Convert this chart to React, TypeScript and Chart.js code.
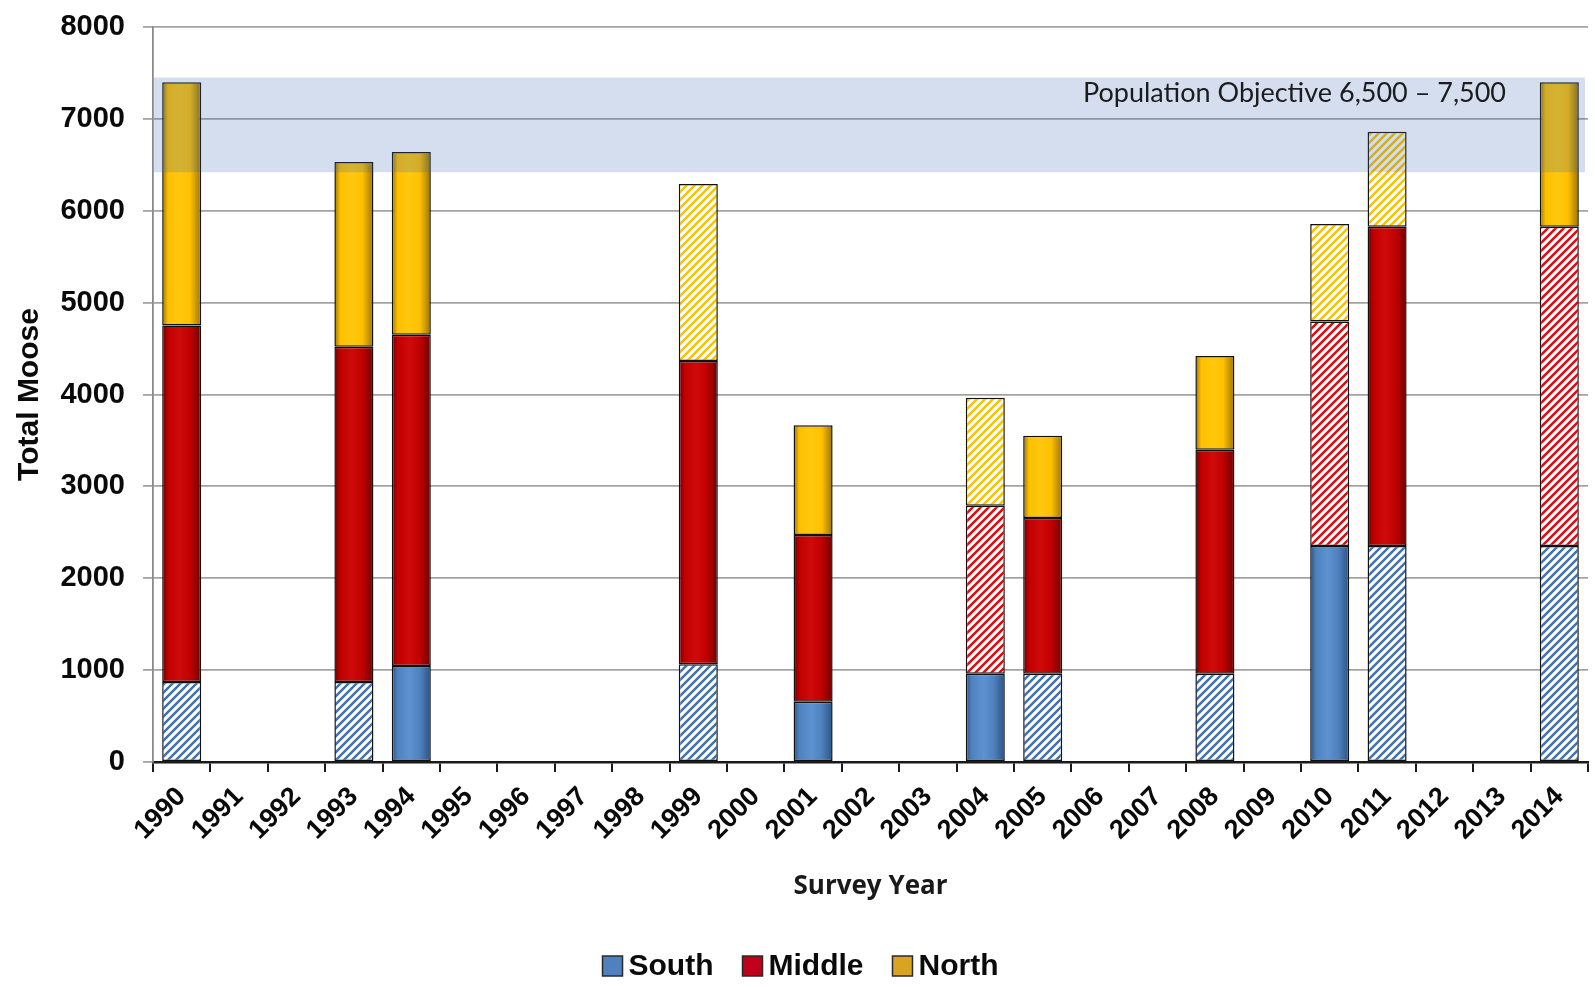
import React, { useEffect, useRef } from 'react';
import { Chart, registerables } from 'chart.js';

Chart.register(...registerables);

const YEARS = [
  '1990', '1991', '1992', '1993', '1994', '1995', '1996', '1997', '1998', '1999',
  '2000', '2001', '2002', '2003', '2004', '2005', '2006', '2007', '2008', '2009',
  '2010', '2011', '2012', '2013', '2014',
];

const SOUTH = [870, null, null, 870, 1045, null, null, null, null, 1065, null, 655, null, null, 960, 960, null, null, 960, null, 2350, 2350, null, null, 2350];
const MIDDLE = [3880, null, null, 3650, 3605, null, null, null, null, 3300, null, 1815, null, null, 1830, 1695, null, null, 2440, null, 2445, 3475, null, null, 3475];
const NORTH = [2650, null, null, 2010, 1990, null, null, null, null, 1925, null, 1195, null, null, 1175, 895, null, null, 1020, null, 1060, 1035, null, null, 1575];

// Years whose segment is drawn hatched (estimated) rather than solid
const SOUTH_HATCHED_YEARS = ['1990', '1993', '1999', '2005', '2008', '2011', '2014'];
const MIDDLE_HATCHED_YEARS = ['2004', '2010', '2014'];
const NORTH_HATCHED_YEARS = ['1999', '2004', '2010', '2011'];

const SERIES_NAMES = ['South', 'Middle', 'North'];
const Y_TICKS = [0, 1000, 2000, 3000, 4000, 5000, 6000, 7000, 8000];
const OBJECTIVE_LOW = 6420;
const OBJECTIVE_HIGH = 7450;
const OBJECTIVE_LABEL = 'Population Objective 6,500 \u2013 7,500';

const BAR_PCT = 0.68;
const FONT = "'Liberation Sans', Arial, Helvetica, sans-serif";

type Palette = { base: string; dark: string; light: string; stripe: string; legend: string };
const PALETTES: Palette[] = [
  { base: '#4f81bd', dark: '#2c5284', light: '#5d92d2', stripe: '#3f72b8', legend: '#4f81bd' },
  { base: '#c00000', dark: '#6e0000', light: '#cf0a0a', stripe: '#e00a0a', legend: '#c0001a' },
  { base: '#ffc000', dark: '#9a7400', light: '#ffc80d', stripe: '#ffc000', legend: '#d9a520' },
];

function makeHatch(ctx: CanvasRenderingContext2D, color: string): CanvasPattern | string {
  const s = 8;
  const c = document.createElement('canvas');
  c.width = s;
  c.height = s;
  const g = c.getContext('2d');
  if (!g) return color;
  g.fillStyle = '#ffffff';
  g.fillRect(0, 0, s, s);
  g.strokeStyle = color;
  g.lineWidth = 2.5;
  g.beginPath();
  g.moveTo(-2, s + 2);
  g.lineTo(s + 2, -2);
  g.moveTo(-2, 2);
  g.lineTo(2, -2);
  g.moveTo(s - 2, s + 2);
  g.lineTo(s + 2, s - 2);
  g.stroke();
  return ctx.createPattern(c, 'repeat') || color;
}

const bandPlugin = {
  id: 'objectiveBand',
  afterDatasetsDraw(chart: any) {
    const { ctx, chartArea, scales } = chart;
    const y = scales.y;
    const top = y.getPixelForValue(OBJECTIVE_HIGH);
    const bottom = y.getPixelForValue(OBJECTIVE_LOW);
    ctx.save();
    ctx.fillStyle = 'rgba(60, 105, 180, 0.22)';
    ctx.fillRect(chartArea.left + 1, top, chartArea.right - chartArea.left - 4, bottom - top);
    ctx.fillStyle = '#1c1c1c';
    ctx.font = "27px Lato, 'Open Sans', sans-serif";
    ctx.textAlign = 'right';
    ctx.textBaseline = 'middle';
    ctx.fillText(OBJECTIVE_LABEL, chartArea.right - 82, top + 16);
    ctx.restore();
  },
};

const legendPlugin = {
  id: 'customLegend',
  afterDraw(chart: any) {
    const { ctx, width } = chart;
    const box = 20;
    const gapText = 6;
    const gapItem = 29;
    ctx.save();
    ctx.font = `bold 30px ${FONT}`;
    const widths = SERIES_NAMES.map((n) => ctx.measureText(n).width);
    const total = widths.reduce((a, w) => a + box + gapText + w, 0) + gapItem * (SERIES_NAMES.length - 1);
    let x = width / 2 - total / 2 + 3;
    const cy = 966;
    SERIES_NAMES.forEach((name, i) => {
      ctx.fillStyle = PALETTES[i].legend;
      ctx.fillRect(x, cy - box / 2, box, box);
      ctx.strokeStyle = '#2a2a2a';
      ctx.lineWidth = 1.5;
      ctx.strokeRect(x, cy - box / 2, box, box);
      ctx.fillStyle = '#0a0a0a';
      ctx.textAlign = 'left';
      ctx.textBaseline = 'middle';
      ctx.fillText(name, x + box + gapText, cy + 1);
      x += box + gapText + widths[i] + gapItem;
    });
    ctx.restore();
  },
};

export default function App() {
  const canvasRef = useRef<HTMLCanvasElement | null>(null);

  useEffect(() => {
    document.body.style.margin = '0';
    const canvas = canvasRef.current;
    if (!canvas) return;
    const ctx0 = canvas.getContext('2d') as CanvasRenderingContext2D;

    const hatchedSets = [SOUTH_HATCHED_YEARS, MIDDLE_HATCHED_YEARS, NORTH_HATCHED_YEARS];
    const patterns = PALETTES.map((p) => makeHatch(ctx0, p.stripe));

    const fillFor = (si: number) => (c: any) => {
      if (c.type !== 'data') return PALETTES[si].base;
      const year = YEARS[c.dataIndex];
      if (hatchedSets[si].includes(year)) return patterns[si];
      const xs = c.chart.scales && c.chart.scales.x;
      if (!xs || !isFinite(xs.width) || xs.width <= 0) return PALETTES[si].base;
      const cx = xs.getPixelForValue(c.dataIndex);
      const w = (xs.width / YEARS.length) * BAR_PCT;
      const g = c.chart.ctx.createLinearGradient(cx - w / 2, 0, cx + w / 2, 0);
      const p = PALETTES[si];
      g.addColorStop(0, p.dark);
      g.addColorStop(0.15, p.base);
      g.addColorStop(0.45, p.light);
      g.addColorStop(0.72, p.base);
      g.addColorStop(1, p.dark);
      return g;
    };

    const seriesData = [SOUTH, MIDDLE, NORTH];

    const chart = new Chart(canvas, {
      type: 'bar',
      data: {
        labels: YEARS,
        datasets: SERIES_NAMES.map((name, si) => ({
          label: name,
          data: seriesData[si],
          backgroundColor: fillFor(si),
          borderColor: '#111111',
          borderWidth: 1.5,
          borderSkipped: false,
          barPercentage: BAR_PCT,
          categoryPercentage: 1,
        })),
      },
      options: {
        animation: false,
        responsive: true,
        maintainAspectRatio: false,
        layout: { padding: { top: 27, right: 7, bottom: 60, left: 0 } },
        plugins: {
          legend: { display: false },
          tooltip: { enabled: false },
        },
        scales: {
          x: {
            stacked: true,
            offset: true,
            grid: {
              offset: true,
              drawOnChartArea: false,
              drawTicks: true,
              tickLength: 10,
              color: '#1a1a1a',
              lineWidth: 2,
            },
            border: { display: true, color: '#1a1a1a', width: 2.5 },
            ticks: {
              autoSkip: false,
              maxRotation: 45,
              minRotation: 45,
              color: '#0a0a0a',
              padding: 9,
              font: { family: FONT, size: 27, weight: 'bold' },
            },
            title: {
              display: true,
              text: 'Survey Year',
              color: '#1a1a1a',
              font: { family: "'Open Sans', sans-serif", size: 26, weight: 'bold' },
              padding: { top: 0, bottom: 25 },
            },
            afterFit: (scale: any) => {
              scale.height = 165;
            },
          },
          y: {
            stacked: true,
            min: 0,
            max: 8000,
            afterBuildTicks: (scale: any) => {
              scale.ticks = Y_TICKS.map((v) => ({ value: v }));
            },
            grid: {
              color: '#a3a3a3',
              lineWidth: 1.8,
              drawTicks: true,
              tickLength: 10,
            },
            border: { display: true, color: '#8a8a8a', width: 1.8 },
            ticks: {
              color: '#0a0a0a',
              padding: 18,
              font: { family: FONT, size: 29, weight: 'bold' },
              callback: (v: any) => String(v),
            },
            title: {
              display: true,
              text: 'Total Moose',
              color: '#0a0a0a',
              font: { family: FONT, size: 30, weight: 'bold' },
              padding: { top: 12, bottom: 0 },
            },
            afterFit: (scale: any) => {
              scale.width = 153;
              scale.paddingTop = 10;
              scale.paddingBottom = 10;
            },
          },
        },
      },
      plugins: [bandPlugin, legendPlugin],
    } as any);

    return () => {
      chart.destroy();
    };
  }, []);

  return (
    <div style={{ position: 'absolute', left: 0, top: 0, width: 1595, height: 987, background: '#ffffff' }}>
      <canvas ref={canvasRef} />
    </div>
  );
}
